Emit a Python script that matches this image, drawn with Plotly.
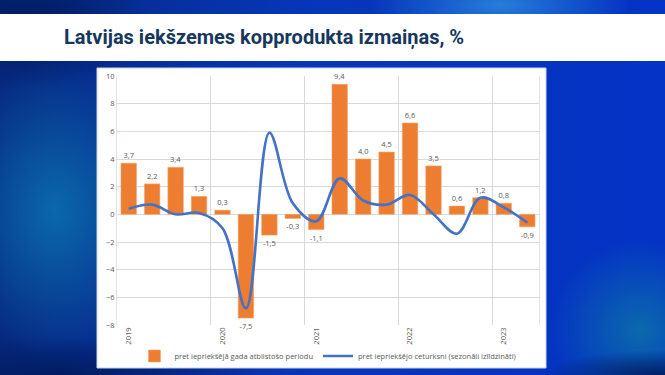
import base64
import plotly.graph_objects as go

# ---------------- data ----------------
quarters = ["2019 Q1", "2019 Q2", "2019 Q3", "2019 Q4",
            "2020 Q1", "2020 Q2", "2020 Q3", "2020 Q4",
            "2021 Q1", "2021 Q2", "2021 Q3", "2021 Q4",
            "2022 Q1", "2022 Q2", "2022 Q3", "2022 Q4",
            "2023 Q1", "2023 Q2"]
yoy = [3.7, 2.2, 3.4, 1.3,
       0.3, -7.5, -1.5, -0.3,
       -1.1, 9.4, 4.0, 4.5,
       6.6, 3.5, 0.6, 1.2,
       0.8, -0.9]
qoq = [0.4, 0.7, 0.0, 0.1,
       -1.0, -6.8, 5.9, 0.8,
       -0.5, 2.6, 1.0, 0.7,
       1.4, 0.0, -1.4, 1.2,
       0.5, -0.6]
year_labels = ["2019", "2020", "2021", "2022", "2023"]
name_yoy = "pret iepriekšējā gada atbilstošo periodu"
name_qoq = "pret iepriekšējo ceturksni (sezonāli izlīdzināti)"
title_text = "Latvijas iekšzemes kopprodukta izmaiņas, %"

# ---------------- geometry helpers ----------------
W, H = 665, 375
L, R, T, B = 117, 539, 76, 325  # plot area in px


def px_x(px):
    return (px - L) / (R - L)


def px_y(py):
    return (B - py) / (B - T)


xs = list(range(len(quarters)))
year_pos = [i for i, q in enumerate(quarters) if q.endswith("Q1")]
labels = [("%.1f" % v).replace(".", ",") for v in yoy]

grey = "#595959"
small_font = dict(family="Open Sans, Liberation Sans, sans-serif", size=7.5, color=grey)

fig = go.Figure()
fig.add_trace(go.Bar(
    x=xs, y=yoy, name=name_yoy, width=0.66,
    marker=dict(color="#ED7D31", line=dict(color="#F4A46E", width=0.6)),
    text=labels, textposition="outside", cliponaxis=False,
    textfont=small_font, outsidetextfont=small_font,
))
fig.add_trace(go.Scatter(
    x=xs, y=qoq, name=name_qoq, mode="lines",
    line=dict(color="#4472C4", width=2.6, shape="spline", smoothing=1.0),
))

# ---------------- background (slide) ----------------
svg = """<svg xmlns='http://www.w3.org/2000/svg' width='665' height='375' viewBox='0 0 665 375' preserveAspectRatio='none'>
<defs>
<linearGradient id='g' x1='0' y1='0' x2='1' y2='0'>
<stop offset='0' stop-color='#06287e'/>
<stop offset='0.45' stop-color='#0636b8'/>
<stop offset='1' stop-color='#0433c6'/>
</linearGradient>
<radialGradient id='r1' cx='0.5' cy='0.5' r='0.5'>
<stop offset='0' stop-color='#0b6cab' stop-opacity='0.95'/>
<stop offset='1' stop-color='#0b6cab' stop-opacity='0'/>
</radialGradient>
<radialGradient id='r2' cx='0.5' cy='0.5' r='0.5'>
<stop offset='0' stop-color='#2a86dc' stop-opacity='0.9'/>
<stop offset='1' stop-color='#2a86dc' stop-opacity='0'/>
</radialGradient>
<radialGradient id='r3' cx='0.5' cy='0.5' r='0.5'>
<stop offset='0' stop-color='#001a5c' stop-opacity='0.9'/>
<stop offset='1' stop-color='#001a5c' stop-opacity='0'/>
</radialGradient>
</defs>
<rect width='665' height='375' fill='url(#g)'/>
<ellipse cx='55' cy='210' rx='110' ry='150' fill='url(#r1)'/>
<ellipse cx='640' cy='330' rx='90' ry='90' fill='url(#r1)'/>
<ellipse cx='500' cy='5' rx='130' ry='40' fill='url(#r2)'/>
<ellipse cx='30' cy='20' rx='120' ry='70' fill='url(#r3)'/>
<ellipse cx='60' cy='375' rx='200' ry='40' fill='url(#r3)'/>
<ellipse cx='660' cy='375' rx='120' ry='25' fill='url(#r3)'/>
</svg>"""
src = "data:image/svg+xml;base64," + base64.b64encode(svg.encode("utf-8")).decode("ascii")

images = [dict(source=src, xref="paper", yref="paper",
               x=px_x(0), y=px_y(0), sizex=px_x(W) - px_x(0), sizey=px_y(0) - px_y(H),
               sizing="stretch", layer="below", xanchor="left", yanchor="top")]

shapes = [
    # title banner
    dict(type="rect", xref="paper", yref="paper",
         x0=px_x(0), x1=px_x(W), y0=px_y(61), y1=px_y(14),
         fillcolor="white", line=dict(width=0), layer="below"),
    # chart panel
    dict(type="rect", xref="paper", yref="paper",
         x0=px_x(97), x1=px_x(546), y0=px_y(368), y1=px_y(68),
         fillcolor="white", line=dict(color="#c9d4e8", width=1), layer="below"),
]

fig.update_layout(
    width=W, height=H, autosize=False,
    margin=dict(l=L, r=W - R, t=T, b=H - B, pad=0, autoexpand=False),
    paper_bgcolor="#0636b8", plot_bgcolor="rgba(0,0,0,0)",
    images=images, shapes=shapes,
    showlegend=True,
    legend=dict(orientation="h", x=0.5, xanchor="center", y=px_y(356), yanchor="middle",
                font=dict(family="Open Sans, Liberation Sans, sans-serif", size=7.5, color=grey),
                bgcolor="rgba(0,0,0,0)", itemwidth=30, tracegroupgap=0),
    bargap=0.34,
    annotations=[dict(text="<b>" + title_text + "</b>", xref="paper", yref="paper",
                      x=px_x(62), y=px_y(37.5), xanchor="left", yanchor="middle",
                      showarrow=False,
                      font=dict(family="Roboto, Liberation Sans, sans-serif", size=20, color="#17375E"))],
)
fig.update_xaxes(
    range=[-0.5, len(quarters) - 0.5], tickmode="array", tickvals=year_pos, ticktext=year_labels,
    tickangle=-90, showgrid=False, zeroline=False, ticks="", showline=False, automargin=False,
    tickfont=dict(family="Open Sans, Liberation Sans, sans-serif", size=7.5, color=grey),
    minor=dict(tick0=-0.5, dtick=4, showgrid=True, gridcolor="#d9d9d9", gridwidth=1, ticks=""),
)
fig.update_yaxes(
    range=[-8, 10], dtick=2, tick0=0, showgrid=True, gridcolor="#d9d9d9", gridwidth=1,
    zeroline=True, zerolinecolor="#d9d9d9", zerolinewidth=1, ticks="", automargin=False,
    showline=True, linecolor="#e3e3e3", mirror=True,
    tickfont=dict(family="Open Sans, Liberation Sans, sans-serif", size=7.5, color=grey),
)

fig.write_html("out.html",
               config={"displayModeBar": False},
               post_script="document.body.style.margin='0';document.body.style.padding='0';"
                           "document.body.style.overflow='hidden';")
